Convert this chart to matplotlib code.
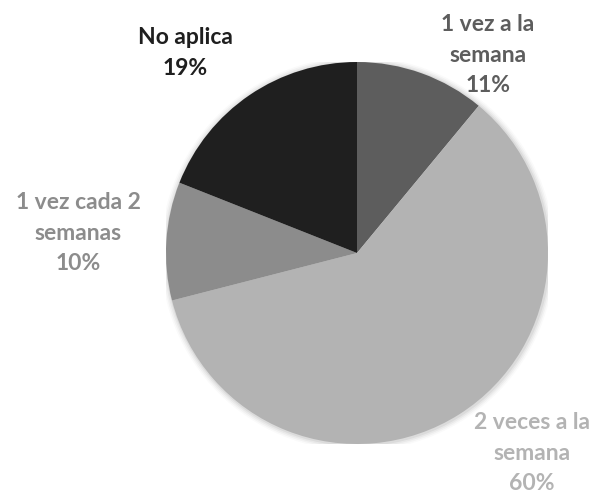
import matplotlib
matplotlib.use("Agg")
import matplotlib.pyplot as plt
from matplotlib.patches import Circle

labels = ["1 vez a la\nsemana", "2 veces a la\nsemana", "1 vez cada 2\nsemanas", "No aplica"]
shares = [11, 60, 10, 19]
colours = ["#5d5d5d", "#b3b3b3", "#8c8c8c", "#1f1f1f"]
# label centres in pixels (x, y from top)
label_pos = [(488, 55), (532, 453), (78, 233), (185, 53)]

W, H = 597, 497
cx, cy, r = 357, 253, 191

plt.rcParams["font.family"] = ["Lato", "DejaVu Sans"]
fig = plt.figure(figsize=(W / 100, H / 100), dpi=100)
ax = fig.add_axes([(cx - r) / W, (H - cy - r) / H, 2 * r / W, 2 * r / H])

# soft shadow under the pie
for i, a in enumerate([0.05, 0.04, 0.03, 0.02]):
    ax.add_patch(Circle((0.004, -0.004), 1.0 + 0.008 * (i + 1), color="black",
                        alpha=a, lw=0, zorder=0))

ax.pie(shares, colors=colours, startangle=90, counterclock=False,
       wedgeprops=dict(linewidth=0), radius=1.0)
ax.set_xlim(-1, 1)
ax.set_ylim(-1, 1)
ax.set_aspect("equal")
ax.axis("off")

for lab, val, col, (px, py) in zip(labels, shares, colours, label_pos):
    fig.text(px / W, 1 - py / H, f"{lab}\n{val}%", color=col, fontsize=16.5,
             fontweight="bold", ha="center", va="center", linespacing=1.55)

fig.savefig("out.png", dpi=100)
